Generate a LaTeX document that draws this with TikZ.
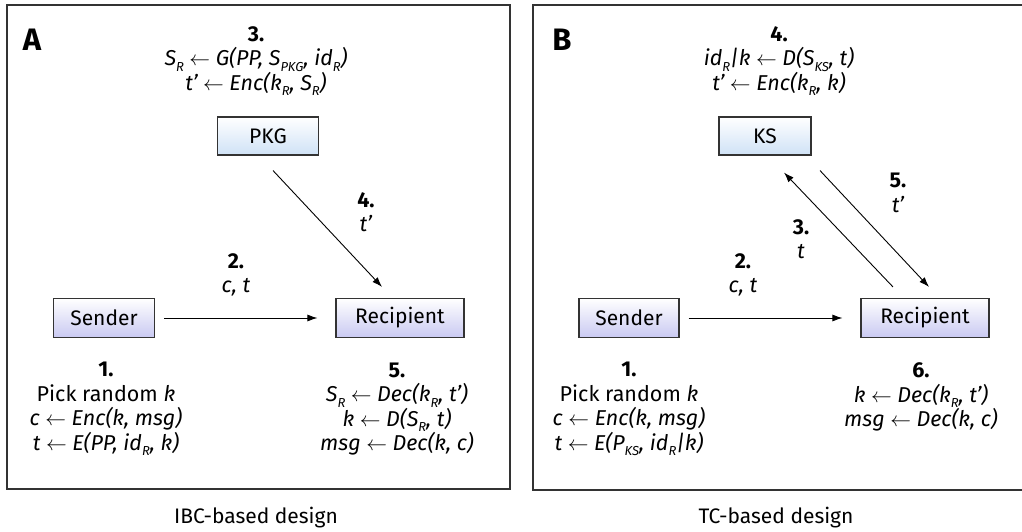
\documentclass[tikz,border=0pt]{standalone}
\usepackage{fontspec}
\setmainfont{Fira Sans}
\usetikzlibrary{arrows.meta}
\definecolor{kblue}{HTML}{CFE2F6}
\definecolor{klav}{HTML}{C9C9F2}
\definecolor{frm}{HTML}{333333}
\newcommand{\lo}[1]{\raisebox{-0.5ex}{\fontsize{13}{13}\selectfont #1}}
\newcommand{\la}{$\leftarrow$}
\begin{document}
\begin{tikzpicture}[x=1pt,y=-1pt,
  frame/.style={draw=frm, line width=1.6pt},
  srvbox/.style={draw=frm, line width=1.1pt, top color=white, bottom color=kblue, minimum height=38pt, inner sep=0pt, font=\fontsize{21}{24}\selectfont},
  usrbox/.style={draw=frm, line width=1.1pt, top color=white, bottom color=klav, minimum height=39pt, inner sep=0pt, font=\fontsize{21}{24}\selectfont},
  txt/.style={align=center, inner sep=0pt, font=\fontsize{21.5}{24.5}\selectfont},
  panel/.style={font=\fontsize{31}{34}\selectfont\bfseries, inner sep=0pt},
  captxt/.style={font=\fontsize{21}{24}\selectfont, inner sep=0pt},
  arr/.style={-{Latex[length=10pt,width=7pt]}, line width=0.9pt}
]
\useasboundingbox (0,0) rectangle (1022,532);
\fill[white] (0,0) rectangle (1022,532);
% frames
\draw[frame] (7,5) rectangle (510,489);
\draw[frame] (533,5) rectangle (1032,490);
\node[panel] (labA) at (32,40) {A};
\node[panel] (labB) at (562,40) {B};

% ---------- Panel A ----------
\node[srvbox, minimum width=101pt] (pkg) at (268,136) {PKG};
\node[usrbox, minimum width=101pt] (sA) at (104,318) {Sender};
\node[usrbox, minimum width=128pt] (rA) at (400,318) {Recipient};

\node[txt] (a3) at (256,61) {\textbf{3.}\\ \textit{S\lo{R} \la{} G(PP, S\lo{PKG}, id\lo{R})}\\ \textit{t’ \la{} Enc(k\lo{R}, S\lo{R})}};
\node[txt] (a4) at (366,212) {\textbf{4.}\\ \textit{t’}};
\node[txt] (a2) at (236,275) {\textbf{2.}\\ \textit{c, t}};
\node[txt] (a1) at (106,409) {\textbf{1.}\\ Pick random \textit{k}\\ \textit{c \la{} Enc(k, msg)}\\ \textit{t \la{} E(PP, id\lo{R}, k)}};
\node[txt] (a5) at (397,409) {\textbf{5.}\\ \textit{S\lo{R} \la{} Dec(k\lo{R}, t’)}\\ \textit{k \la{} D(S\lo{R}, t)}\\ \textit{msg \la{} Dec(k, c)}};
\node[captxt] (capA) at (256,518) {IBC-based design};

\draw[arr] ([xshift=9pt]sA.east) -- ([xshift=-18pt]rA.west);
\draw[arr] ([xshift=5pt,yshift=-15pt]pkg.south) -- ([xshift=-18pt,yshift=11pt]rA.north);

% ---------- Panel B ----------
\node[srvbox, minimum width=92pt] (ks) at (765,136) {KS};
\node[usrbox, minimum width=100pt] (sB) at (629,318) {Sender};
\node[usrbox, minimum width=128pt] (rB) at (925,318) {Recipient};

\node[txt] (b4) at (779,61) {\textbf{4.}\\ \textit{id\lo{R}|k \la{} D(S\lo{KS}, t)}\\ \textit{t’ \la{} Enc(k\lo{R}, k)}};
\node[txt] (b5) at (898,193) {\textbf{5.}\\ \textit{t’}};
\node[txt] (b3) at (801,239) {\textbf{3.}\\ \textit{t}};
\node[txt] (b2) at (743,275) {\textbf{2.}\\ \textit{c, t}};
\node[txt] (b1) at (629,409) {\textbf{1.}\\ Pick random \textit{k}\\ \textit{c \la{} Enc(k, msg)}\\ \textit{t \la{} E(P\lo{KS}, id\lo{R}|k)}};
\node[txt] (b6) at (921,397) {\textbf{6.}\\ \textit{k \la{} Dec(k\lo{R}, t’)}\\ \textit{msg \la{} Dec(k, c)}};
\node[captxt] (capB) at (776,518) {TC-based design};

\draw[arr] ([xshift=9pt]sB.east) -- ([xshift=-18pt]rB.west);
\draw[arr] ([xshift=-32pt,yshift=11pt]rB.north) -- ([xshift=19pt,yshift=-17pt]ks.south);
\draw[arr] ([xshift=55pt,yshift=-15pt]ks.south) -- ([xshift=4pt,yshift=11pt]rB.north);
\end{tikzpicture}
\end{document}
